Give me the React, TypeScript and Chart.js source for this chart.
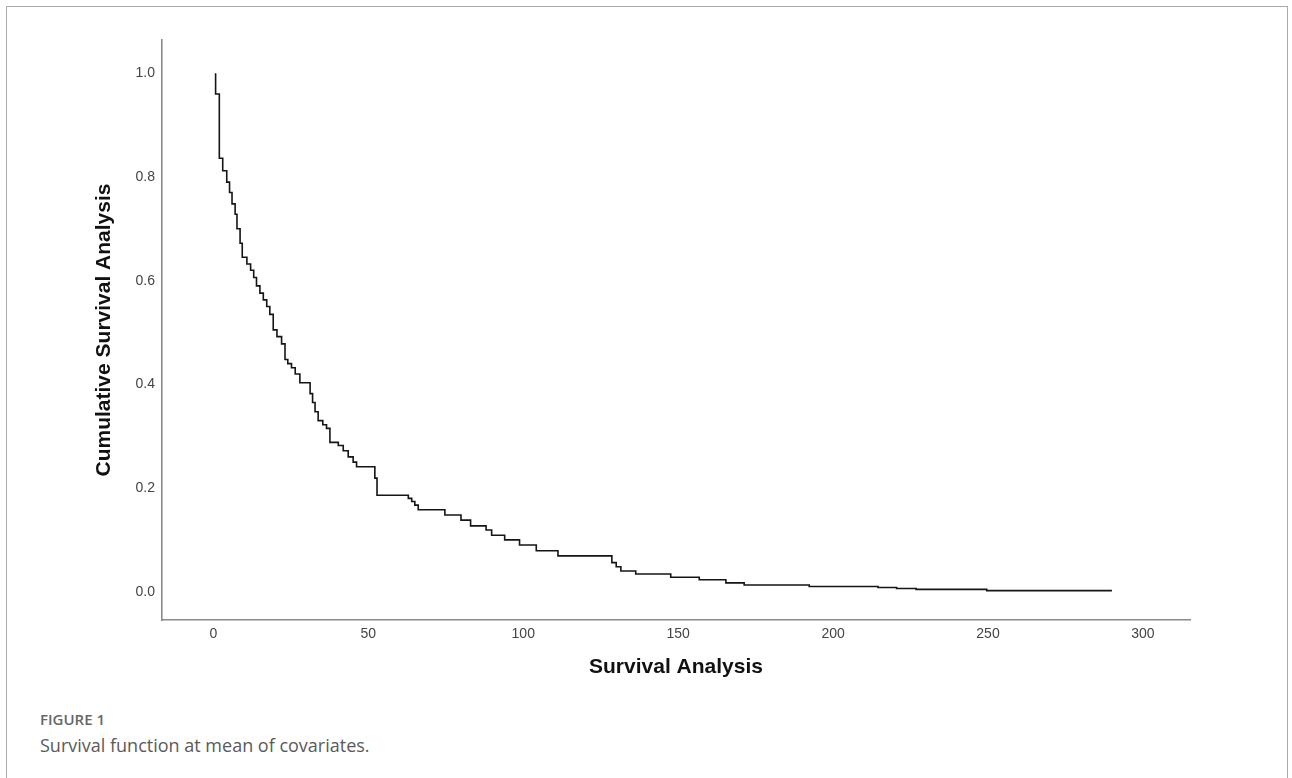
import React, { useEffect, useRef } from "react";
import { Chart, registerables } from "chart.js";

Chart.register(...registerables);

// Survival step function: time (x) at which survival becomes the value in survivalValues
const eventTimes: number[] = [
  0.7, 0.7, 1.9, 3.0, 4.3, 5.2, 6.0, 7.0, 7.6, 8.6, 9.3, 10.8, 12.0, 13.0, 13.9, 15.0, 16.1,
  17.2, 18.2, 19.3, 20.5, 22.0, 23.1, 24.0, 25.2, 26.4, 27.9, 31.2, 32.0, 32.8, 33.8, 35.3,
  36.5, 37.6, 40.3, 41.9, 43.5, 45.1, 46.2, 52.1, 52.8, 62.9, 64.0, 65.0, 66.1, 74.7, 79.9,
  83.0, 88.0, 89.8, 94.0, 98.8, 104.2, 111.2, 128.6, 130.0, 131.5, 136.3, 147.6, 156.8,
  165.4, 171.3, 192.3, 214.5, 220.5, 226.8, 249.6, 290.0,
];
const survivalValues: number[] = [
  1.0, 0.96, 0.836, 0.812, 0.79, 0.77, 0.748, 0.728, 0.7, 0.672, 0.645, 0.632, 0.62, 0.606,
  0.59, 0.576, 0.563, 0.55, 0.535, 0.505, 0.492, 0.478, 0.448, 0.44, 0.432, 0.42, 0.403,
  0.382, 0.365, 0.347, 0.33, 0.322, 0.315, 0.288, 0.282, 0.272, 0.26, 0.25, 0.241, 0.219,
  0.186, 0.18, 0.174, 0.167, 0.158, 0.148, 0.138, 0.127, 0.119, 0.109, 0.1, 0.09, 0.079,
  0.069, 0.056, 0.048, 0.04, 0.034, 0.028, 0.023, 0.017, 0.013, 0.01, 0.008, 0.0062, 0.0045,
  0.002, 0.002,
];

const xTicks: number[] = [0, 50, 100, 150, 200, 250, 300];
const yTicks: number[] = [0, 0.2, 0.4, 0.6, 0.8, 1.0];

const xTitle = "Survival Analysis";
const yTitle = "Cumulative Survival Analysis";
const figureLabel = "FIGURE 1";
const figureCaption = "Survival function at mean of covariates.";

export default function App() {
  const canvasRef = useRef<HTMLCanvasElement | null>(null);

  useEffect(() => {
    if (!canvasRef.current) return;
    const points = eventTimes.map((t, i) => ({ x: t, y: survivalValues[i] }));
    const chart = new Chart(canvasRef.current, {
      type: "line",
      data: {
        datasets: [
          {
            data: points,
            stepped: true,
            borderColor: "#151515",
            borderWidth: 1.6,
            pointRadius: 0,
            fill: false,
          },
        ],
      },
      options: {
        animation: false,
        responsive: false,
        devicePixelRatio: 1,
        layout: { padding: { top: 40, left: 0, right: 102, bottom: 0 } },
        plugins: { legend: { display: false }, tooltip: { enabled: false } },
        scales: {
          x: {
            type: "linear",
            min: -16.6,
            max: 315.2,
            afterBuildTicks: (axis: any) => {
              axis.ticks = xTicks.map((v) => ({ value: v }));
            },
            afterFit: (axis: any) => {
              axis.height = 80;
            },
            grid: { display: false, drawTicks: false },
            border: { display: true, color: "#8a8a8a", width: 1.6 },
            ticks: {
              padding: 6,
              color: "#444",
              font: { family: "'Liberation Sans', Arial, sans-serif", size: 14 },
              callback: (v: any) => String(v),
            },
            title: {
              display: true,
              text: xTitle,
              color: "#111",
              font: { family: "'Liberation Sans', Arial, sans-serif", size: 21, weight: "bold", lineHeight: 1.2 },
              padding: { top: 0, bottom: 20 },
            },
          },
          y: {
            type: "linear",
            min: -0.0546,
            max: 1.0642,
            afterBuildTicks: (axis: any) => {
              axis.ticks = yTicks.map((v) => ({ value: v }));
            },
            afterFit: (axis: any) => {
              axis.width = 162;
            },
            grid: { display: false, drawTicks: false },
            border: { display: true, color: "#8a8a8a", width: 1.6 },
            ticks: {
              padding: 7,
              color: "#444",
              font: { family: "'Liberation Sans', Arial, sans-serif", size: 14 },
              callback: (v: any) => Number(v).toFixed(1),
            },
            title: {
              display: true,
              text: yTitle,
              color: "#111",
              font: { family: "'Liberation Sans', Arial, sans-serif", size: 21, weight: "bold", lineHeight: 1.2 },
              padding: { top: 92, bottom: 0 },
            },
          },
        },
      },
    });
    return () => chart.destroy();
  }, []);

  return (
    <div
      style={{
        position: "fixed",
        left: 0,
        top: 0,
        width: 1292,
        height: 778,
        background: "#fff",
        overflow: "hidden",
      }}
    >
      <div
        style={{
          position: "absolute",
          left: 6,
          top: 6,
          width: 1282,
          height: 820,
          border: "1px solid #ababab",
          boxSizing: "border-box",
        }}
      />
      <canvas
        ref={canvasRef}
        width={1292}
        height={700}
        style={{ position: "absolute", left: 0, top: 0, width: 1292, height: 700 }}
      />
      <div
        style={{
          position: "absolute",
          left: 40,
          top: 709,
          height: 20,
          lineHeight: "20px",
          fontFamily: "'Open Sans', sans-serif",
          fontWeight: 600,
          fontSize: 15,
          color: "#666",
          whiteSpace: "nowrap",
        }}
      >
        {figureLabel}
      </div>
      <div
        style={{
          position: "absolute",
          left: 40,
          top: 733,
          height: 24,
          lineHeight: "24px",
          fontFamily: "'Open Sans', sans-serif",
          fontWeight: 400,
          fontSize: 18,
          color: "#5a5a5a",
          whiteSpace: "nowrap",
        }}
      >
        {figureCaption}
      </div>
    </div>
  );
}
